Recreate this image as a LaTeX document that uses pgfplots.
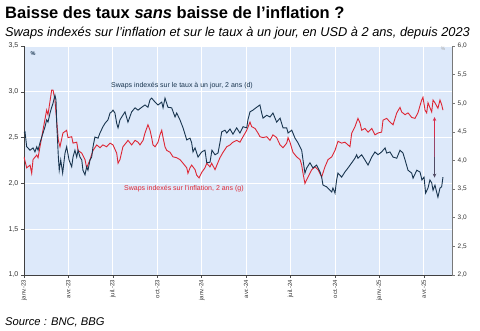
\documentclass[border=0pt]{standalone}
\usepackage{fontspec}
\setmainfont{Liberation Sans}
\usepackage{pgfplots}
\pgfplotsset{compat=1.18}
\usetikzlibrary{arrows.meta}
\definecolor{bgblue}{RGB}{221,233,250}
\definecolor{navy}{RGB}{24,52,78}
\definecolor{cred}{RGB}{222,38,52}
\definecolor{axgray}{RGB}{120,120,120}
\definecolor{arrowtop}{RGB}{215,45,75}
\definecolor{arrowmid}{RGB}{150,70,105}
\definecolor{arrowbot}{RGB}{80,75,100}
\pgfplotsset{
  mytick/.style={
    /pgf/number format/fixed, /pgf/number format/fixed zerofill, /pgf/number format/precision=1, /pgf/number format/use comma, /pgf/number format/assume math mode=true}
}
\begin{document}
\begin{tikzpicture}[x=1pt,y=1pt]
\path[use as bounding box] (-24,-55) rectangle (456,275);
\node[anchor=base west, inner sep=0, font=\fontsize{16.5}{18}\bfseries\selectfont] at (-19,256) {Baisse des taux \textit{sans} baisse de l’inflation ?};
\node[anchor=base west, inner sep=0, font=\fontsize{12.8}{14}\itshape\selectfont] at (-19,238.5) {Swaps indexés sur l’inflation et sur le taux à un jour, en USD à 2 ans, depuis 2023};
\node[anchor=base west, inner sep=0, font=\fontsize{11.2}{13}\itshape\selectfont] at (-19,-50) {Source : BNC, BBG};
\begin{axis}[
  scale only axis, width=428pt, height=229pt,
  xmin=0, xmax=28.9, ymin=1, ymax=3.5,
  axis background/.style={fill=bgblue},
  axis y line*=left, axis x line*=bottom,
  axis line style={black!75, line width=0.8pt, -},
  xtick={0,3,...,27},
  xticklabels={janv.-23, avr.-23, juil.-23, oct.-23, janv.-24, avr.-24, juil.-24, oct.-24, janv.-25, avr.-25},
  x tick label style={rotate=90, anchor=east, font=\fontsize{6}{7}\selectfont, black!80, inner sep=2pt},
  ytick={1,1.5,...,3.5},
  yticklabel style={font=\fontsize{7}{8}\selectfont, black!80, inner sep=3pt, mytick},
  grid=major, grid style={white, line width=0.8pt},
  tick style={black!70, line width=0.6pt},
  major tick length=2.5pt, tick align=outside,
]
\addplot[cred, line width=0.9pt] coordinates {
(0,2.29)(0.18,2.17)(0.41,2.20)(0.52,2.11)(0.61,2.26)(0.86,2.31)(0.95,2.28)(1.08,2.40)(1.28,2.58)(1.53,2.80)
(1.62,2.75)(1.87,3.02)(1.96,3.02)(2.09,2.91)(2.16,2.77)(2.32,2.47)(2.43,2.40)(2.63,2.55)(2.88,2.58)(2.97,2.50)
(3.22,2.51)(3.31,2.44)(3.56,2.45)(3.65,2.36)(3.90,2.33)(4.12,2.26)(4.23,2.17)(4.46,2.26)(4.66,2.36)(4.91,2.42)
(5.13,2.39)(5.33,2.42)(5.58,2.40)(5.81,2.44)(6.01,2.42)(6.26,2.33)(6.35,2.22)(6.48,2.26)(6.68,2.40)(6.93,2.45)
(7.02,2.47)(7.27,2.42)(7.50,2.47)(7.70,2.45)(7.83,2.42)(8.04,2.47)(8.17,2.55)(8.37,2.64)(8.51,2.58)(8.62,2.50)
(8.71,2.42)(8.85,2.40)(9.05,2.45)(9.18,2.53)(9.30,2.58)(9.39,2.50)(9.52,2.40)(9.64,2.36)(9.86,2.34)(10.06,2.29)
(10.31,2.28)(10.53,2.26)(10.74,2.22)(10.99,2.17)(11.07,2.11)(11.21,2.17)(11.32,2.20)(11.55,2.15)(11.66,2.09)(11.82,2.06)
(12.00,2.12)(12.22,2.17)(12.34,2.22)(12.56,2.18)(12.67,2.22)(12.90,2.15)(13.10,2.23)(13.23,2.28)(13.44,2.34)(13.69,2.40)
(13.91,2.42)(14.11,2.45)(14.36,2.47)(14.58,2.45)(14.79,2.51)(15.04,2.58)(15.26,2.67)(15.37,2.62)(15.60,2.60)(15.80,2.55)
(15.93,2.51)(16.14,2.50)(16.39,2.51)(16.61,2.47)(16.81,2.53)(17.06,2.50)(17.29,2.42)(17.49,2.39)(17.74,2.44)(17.83,2.50)
(17.96,2.45)(18.16,2.34)(18.41,2.29)(18.64,2.26)(18.75,2.20)(18.84,2.11)(18.97,2.00)(19.18,2.07)(19.43,2.15)(19.65,2.18)
(19.85,2.15)(20.10,2.07)(20.32,2.18)(20.53,2.26)(20.78,2.29)(21.00,2.36)(21.20,2.46)(21.45,2.44)(21.67,2.45)(21.88,2.42)
(22.01,2.40)(22.13,2.55)(22.35,2.62)(22.55,2.71)(22.69,2.66)(22.80,2.58)(23.02,2.60)(23.23,2.56)(23.48,2.60)(23.70,2.53)
(23.90,2.55)(24.15,2.56)(24.24,2.69)(24.49,2.71)(24.71,2.67)(24.92,2.64)(25.17,2.77)(25.39,2.83)(25.50,2.78)(25.73,2.75)
(25.93,2.77)(26.18,2.72)(26.40,2.71)(26.60,2.77)(26.85,2.91)(26.94,2.94)(27.08,2.80)(27.19,2.77)(27.28,2.88)(27.53,2.78)
(27.62,2.91)(27.75,2.88)(27.95,2.82)(28.09,2.91)(28.20,2.86)(28.29,2.80)
};
\end{axis}
\begin{axis}[
  scale only axis, width=428pt, height=229pt,
  xmin=0, xmax=28.9, ymin=2, ymax=6,
  axis y line*=right, axis x line=none,
  axis line style={axgray, line width=0.8pt, -},
  ytick={2,2.5,...,6},
  yticklabel style={font=\fontsize{6.5}{7}\selectfont, black!80, inner sep=3pt, mytick},
  tick style={axgray, line width=0.6pt},
  major tick length=2.5pt, tick align=outside,
]
\addplot[navy, line width=0.9pt] coordinates {
(0,4.48)(0.07,4.50)(0.18,4.24)(0.41,4.18)(0.61,4.22)(0.74,4.15)(0.86,4.24)(0.95,4.18)(1.08,4.31)(1.20,4.41)
(1.42,4.59)(1.53,4.71)(1.62,4.67)(1.76,4.83)(1.87,4.93)(1.96,5.00)(2.09,5.14)(2.16,5.06)(2.21,4.65)(2.32,4.06)
(2.38,3.83)(2.48,4.01)(2.61,3.78)(2.77,4.13)(2.88,4.24)(3.04,4.01)(3.22,3.89)(3.31,4.06)(3.44,4.18)(3.56,4.06)
(3.65,4.18)(3.78,4.06)(3.90,4.01)(3.98,3.83)(4.12,3.75)(4.23,3.89)(4.32,3.83)(4.46,4.01)(4.57,4.06)(4.66,4.24)
(4.79,4.41)(5.00,4.39)(5.13,4.48)(5.33,4.59)(5.47,4.65)(5.67,4.71)(5.81,4.83)(5.92,4.85)(6.01,4.88)(6.14,4.83)
(6.26,4.65)(6.35,4.57)(6.48,4.71)(6.60,4.76)(6.82,4.85)(7.02,4.67)(7.27,4.85)(7.50,4.92)(7.70,4.88)(7.95,4.93)
(8.17,4.97)(8.37,4.93)(8.51,5.06)(8.62,5.09)(8.85,5.02)(9.05,4.97)(9.30,5.02)(9.39,4.92)(9.52,5.09)(9.72,4.93)
(9.97,4.92)(10.20,4.76)(10.31,4.83)(10.53,4.71)(10.74,4.57)(10.99,4.36)(11.21,4.39)(11.32,4.31)(11.41,4.15)(11.55,4.22)
(11.75,4.06)(12.00,4.15)(12.22,4.18)(12.34,3.96)(12.56,3.97)(12.69,4.18)(12.90,4.10)(13.10,4.13)(13.23,4.31)(13.35,4.50)
(13.57,4.53)(13.69,4.48)(13.91,4.55)(14.11,4.46)(14.36,4.57)(14.58,4.48)(14.79,4.59)(15.04,4.57)(15.12,4.71)(15.26,4.85)
(15.46,4.88)(15.71,4.93)(15.93,4.97)(16.05,4.83)(16.14,4.74)(16.39,4.79)(16.61,4.76)(16.81,4.83)(17.06,4.67)(17.29,4.74)
(17.49,4.57)(17.74,4.57)(17.83,4.48)(18.08,4.53)(18.30,4.39)(18.50,4.31)(18.75,4.18)(18.84,4.01)(18.97,3.78)(19.09,3.87)
(19.31,3.96)(19.51,3.87)(19.76,3.92)(19.99,3.80)(20.10,3.71)(20.19,3.57)(20.44,3.54)(20.66,3.48)(20.78,3.45)(20.86,3.52)
(21.00,3.43)(21.11,3.66)(21.20,3.78)(21.45,3.71)(21.67,3.80)(21.88,3.87)(22.13,3.96)(22.35,4.04)(22.46,4.10)(22.55,4.04)
(22.80,4.10)(23.02,4.01)(23.23,3.92)(23.48,4.06)(23.70,4.15)(23.90,4.10)(24.15,4.15)(24.38,4.22)(24.49,4.13)(24.71,4.15)
(24.92,4.06)(25.17,4.04)(25.39,4.18)(25.59,4.13)(25.73,4.01)(25.93,3.83)(26.18,3.78)(26.27,3.69)(26.52,3.83)(26.74,3.80)
(26.87,3.66)(27.01,3.71)(27.12,3.43)(27.28,3.52)(27.41,3.66)(27.53,3.61)(27.62,3.48)(27.75,3.57)(27.86,3.45)(27.95,3.36)
(28.09,3.52)(28.20,3.54)(28.29,3.71)
};
\draw[arrowtop, line width=0.8pt, {Stealth[length=4pt,width=3.5pt]}-] (axis cs:27.72,4.76) -- (axis cs:27.72,4.40);
\draw[arrowmid, line width=0.8pt] (axis cs:27.72,4.41) -- (axis cs:27.72,4.05);
\draw[arrowbot, line width=0.8pt, -{Stealth[length=4pt,width=3.5pt]}] (axis cs:27.72,4.06) -- (axis cs:27.72,3.70);
\end{axis}
\node[anchor=west, inner sep=0, navy, font=\fontsize{7}{8}\selectfont] at (87,189) {Swaps indexés sur le taux à un jour, 2 ans (d)};
\node[anchor=west, inner sep=0, cred, font=\fontsize{7}{8}\selectfont] at (100,86) {Swaps indexés sur l’inflation, 2 ans (g)};
\node[anchor=center, inner sep=0, navy, font=\fontsize{5.5}{6}\bfseries\selectfont] at (9,221) {\%};
\node[anchor=center, inner sep=0, black!35, font=\fontsize{5}{6}\selectfont] at (419,226) {\%};
\end{tikzpicture}
\end{document}
